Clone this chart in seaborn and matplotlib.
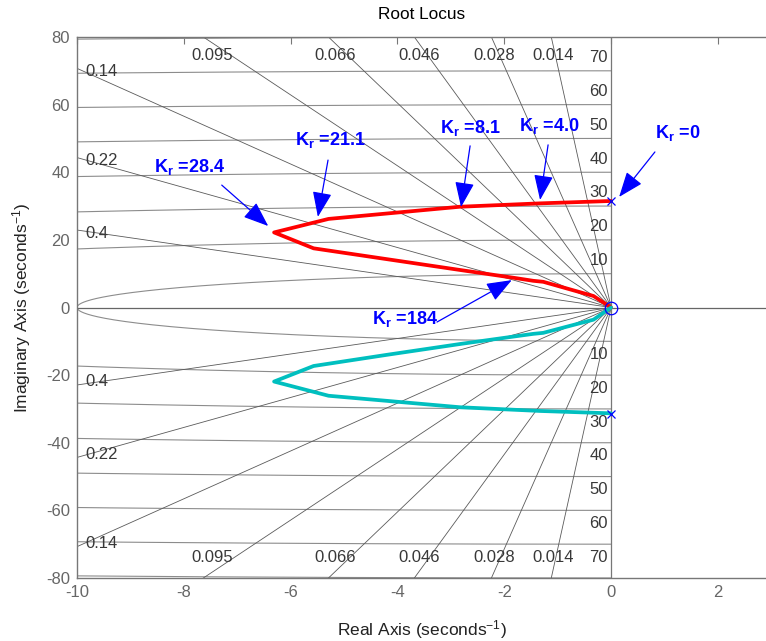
import numpy as np
import pandas as pd
import matplotlib
matplotlib.use("Agg")
import matplotlib.pyplot as plt
import seaborn as sns

# ---------------- data ----------------
zeta_vals = [0.014, 0.028, 0.046, 0.066, 0.095, 0.14, 0.22, 0.4]
zeta_labels = ["0.014", "0.028", "0.046", "0.066", "0.095", "0.14", "0.22", "0.4"]
wn_vals = [10, 20, 30, 40, 50, 60, 70, 80]
wn_labels = ["10", "20", "30", "40", "50", "60", "70"]

upper_re = [0, -1.33, -2.83, -5.29, -6.31, -5.57, -4.2, -2.83, -1.83, -1.46, -1.27, -0.33, 0]
upper_im = [31.5, 30.8, 29.8, 26.2, 22.2, 17.5, 14.3, 11.1, 8.8, 7.9, 7.6, 3.4, 0]
lower_re = [0, -1.33, -2.83, -5.29, -6.31, -5.57, -4.2, -2.83, -1.83, -1.46, -1.27, -0.33, 0]
lower_im = [-31.3, -30.6, -29.5, -26.1, -21.9, -17.3, -14.0, -10.8, -8.6, -7.8, -7.5, -3.6, 0]

pole_re = [0, 0]
pole_im = [31.5, -31.5]
zero_re = [0]
zero_im = [0]

gain_labels = ["28.4", "21.1", "8.1", "4.0", "0", "184"]
# text centre x / baseline y, arrow tail, arrow tip (data coordinates)
gain_text_pos = [(-7.90, 40.1), (-5.26, 48.1), (-2.64, 51.6), (-1.15, 52.2), (1.25, 50.1), (-3.85, -4.9)]
gain_tail = [(-7.29, 36.2), (-5.30, 43.6), (-2.64, 47.8), (-1.18, 48.1), (0.82, 46.0), (-3.26, -4.3)]
gain_tip = [(-6.42, 24.1), (-5.49, 26.8), (-2.81, 29.7), (-1.33, 31.8), (0.15, 32.7), (-1.86, 8.1)]

xticks = [-10, -8, -6, -4, -2, 0, 2]
yticks = [-80, -60, -40, -20, 0, 20, 40, 60, 80]

# ---------------- style ----------------
sns.set_theme(style="white")
plt.rcParams["font.family"] = ["Liberation Sans", "DejaVu Sans"]
plt.rcParams["mathtext.fontset"] = "custom"
plt.rcParams["mathtext.rm"] = "Liberation Sans"
plt.rcParams["mathtext.it"] = "Liberation Sans"
plt.rcParams["mathtext.bf"] = "Liberation Sans:bold"
plt.rcParams["axes.unicode_minus"] = False

W, H = 766, 641
fig = plt.figure(figsize=(W / 100, H / 100), dpi=100)
ax = fig.add_axes([77 / W, 1 - 578 / H, 689 / W, (578 - 37) / H])
ax.set_xlim(-10, 2.9)
ax.set_ylim(-80, 80)

grid_dark = "#5a5a5a"
grid_light = "#8c8c8c"
lab_col = "#383838"

# wn circles
t = np.linspace(-np.pi / 2, np.pi / 2, 400)
for wn in wn_vals:
    ax.plot(-wn * np.cos(t), wn * np.sin(t), color=grid_light, lw=0.8, zorder=1)

# damping rays
for z in zeta_vals:
    s = np.sqrt(1 - z ** 2) / z
    for sg in (1, -1):
        ax.plot([0, -200], [0, sg * 200 * s], color=grid_dark, lw=0.6, zorder=1)

# axes lines
ax.axhline(0, color="#666666", lw=0.9, zorder=1)
ax.plot([0, 0], [-80, 80], color="#777777", lw=0.9, zorder=1)

# wn labels
for wn, lab in zip(wn_vals, wn_labels):
    ax.text(-0.06, wn + 1.7, lab, ha="right", va="bottom", fontsize=12, color=lab_col, zorder=2)
    ax.text(-0.06, -wn - 1.7, lab, ha="right", va="top", fontsize=12, color=lab_col, zorder=2)

# zeta labels
for z, lab in zip(zeta_vals, zeta_labels):
    s = np.sqrt(1 - z ** 2) / z
    if s * 10 > 80:
        xc = -78.2 / s
        ax.text(xc, 74.4, lab, ha="center", va="center", fontsize=12, color=lab_col, zorder=2)
        ax.text(xc, -73.8, lab, ha="center", va="center", fontsize=12, color=lab_col, zorder=2)
    else:
        yl = 10 * s - 0.9
        ax.text(-9.85, yl, lab, ha="left", va="center", fontsize=12, color=lab_col, zorder=2)
        ax.text(-9.85, -yl, lab, ha="left", va="center", fontsize=12, color=lab_col, zorder=2)

# locus
df = pd.DataFrame({
    "re": upper_re + lower_re,
    "im": upper_im + lower_im,
    "branch": ["upper"] * len(upper_re) + ["lower"] * len(lower_re),
})
sns.lineplot(data=df, x="re", y="im", hue="branch", sort=False, estimator=None,
             palette={"upper": "#ff0000", "lower": "#00bfbf"}, lw=2.7,
             legend=False, ax=ax, zorder=3)

ax.plot(pole_re, pole_im, "x", color="blue", ms=6, mew=0.9, zorder=4, clip_on=False)
ax.plot(zero_re, zero_im, "o", mfc="none", mec="blue", ms=9, mew=0.9, zorder=4, clip_on=False)

# gain annotations
for lab, tp, tail, tip in zip(gain_labels, gain_text_pos, gain_tail, gain_tip):
    ax.text(tp[0], tp[1], r"$\mathbf{K_r}$ =" + lab, ha="center", va="baseline",
            fontsize=13, fontweight="bold", color="blue", zorder=5)
    ax.annotate("", xy=tip, xytext=tail,
                arrowprops=dict(arrowstyle="-|>,head_length=1.3,head_width=0.5",
                                color="blue", lw=0.9, shrinkA=0, shrinkB=0),
                zorder=5)

# axes styling
ax.set_xticks(xticks)
ax.set_yticks(yticks)
ax.tick_params(direction="in", top=True, right=False, length=5, width=0.8,
               color="#777777", labelcolor="#666666", labelsize=12, pad=5)
for side in ("left", "top", "bottom"):
    ax.spines[side].set_color("#777777")
    ax.spines[side].set_linewidth(1.0)
ax.spines["right"].set_visible(False)

ax.set_xlabel(r"Real Axis (seconds$^{-1}$)", fontsize=12.5, color="#222222")
ax.set_ylabel(r"Imaginary Axis (seconds$^{-1}$)", fontsize=12.5, color="#222222")
ax.xaxis.set_label_coords(0.5, -(618 - 578) / 541)
ax.yaxis.set_label_coords(-(77 - 33) / 689, 0.5)
ax.set_title("Root Locus", fontsize=12.4, color="black", pad=13)

fig.savefig("out.png", dpi=100)
